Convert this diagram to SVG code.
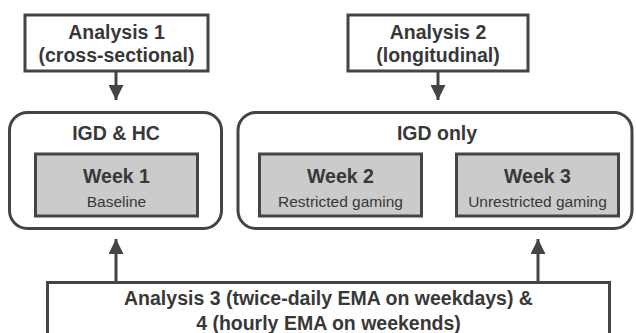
<svg xmlns="http://www.w3.org/2000/svg" width="636" height="333" viewBox="0 0 636 333">
<defs>
<style>
.box{fill:#fff;stroke:#444;stroke-width:3}
.wk{fill:#cbcbcb;stroke:#444;stroke-width:3}
.t{font-family:"Liberation Sans",Arial,sans-serif;fill:#383838;text-anchor:middle}
.b{font-weight:bold;font-size:19.5px}
.s{font-size:15.5px}
.ln{stroke:#444;stroke-width:3;fill:none}
</style>
<marker id="ah" viewBox="0 0 10 10" refX="10" refY="5" markerWidth="5.3" markerHeight="5" orient="auto" markerUnits="strokeWidth">
<path d="M0,0 L10,5 L0,10 Z" fill="#444"/>
</marker>
<marker id="sh" viewBox="0 0 10 10" refX="9" refY="5" markerWidth="6" markerHeight="6" orient="auto-start-reverse" markerUnits="userSpaceOnUse">
<path d="M0,0 L10,5 L0,10 Z" fill="#444"/>
</marker>
</defs>
<rect width="636" height="333" fill="#fff"/>
<g id="connectors">
<line class="ln" x1="116" y1="71" x2="116" y2="100" marker-end="url(#ah)"/>
<line class="ln" x1="438" y1="71" x2="438" y2="100" marker-end="url(#ah)"/>
<line class="ln" x1="116" y1="282" x2="116" y2="239" marker-end="url(#ah)"/>
<line class="ln" x1="538" y1="282" x2="538" y2="239" marker-end="url(#ah)"/>
<line x1="428" y1="189" x2="450" y2="189" stroke="#444" stroke-width="2" marker-start="url(#sh)" marker-end="url(#sh)"/>
</g>
<g id="analysis1">
<rect class="box" x="25" y="15" width="183" height="56"/>
<text class="t b" x="116.5" y="39">Analysis 1</text>
<text class="t b" x="116.5" y="62">(cross-sectional)</text>
</g>
<g id="analysis2">
<rect class="box" x="348" y="15" width="180" height="56"/>
<text class="t b" x="438" y="39">Analysis 2</text>
<text class="t b" x="438" y="62">(longitudinal)</text>
</g>
<g id="igd-hc">
<rect class="box" x="9.5" y="112.5" width="212" height="116" rx="18"/>
<text class="t b" x="116" y="140">IGD &amp; HC</text>
</g>
<g id="igd-only">
<rect class="box" x="238" y="112.5" width="394" height="116" rx="18"/>
<text class="t b" x="437" y="140">IGD only</text>
</g>
<g id="week1">
<rect class="wk" x="35.5" y="154" width="162" height="62"/>
<text class="t b" x="116.5" y="183">Week 1</text>
<text class="t s" x="116.5" y="207">Baseline</text>
</g>
<g id="week2">
<rect class="wk" x="259.5" y="154" width="162" height="62"/>
<text class="t b" x="340.5" y="183">Week 2</text>
<text class="t s" x="340.5" y="207">Restricted gaming</text>
</g>
<g id="week3">
<rect class="wk" x="456.5" y="154" width="162" height="62"/>
<text class="t b" x="537.5" y="183">Week 3</text>
<text class="t s" x="537.5" y="207">Unrestricted gaming</text>
</g>
<g id="analysis34">
<rect class="box" x="47.5" y="282.5" width="562" height="60"/>
<text class="t b" x="328.5" y="305">Analysis 3 (twice-daily EMA on weekdays) &amp;</text>
<text class="t b" x="328.5" y="330">4 (hourly EMA on weekends)</text>
</g>
</svg>
